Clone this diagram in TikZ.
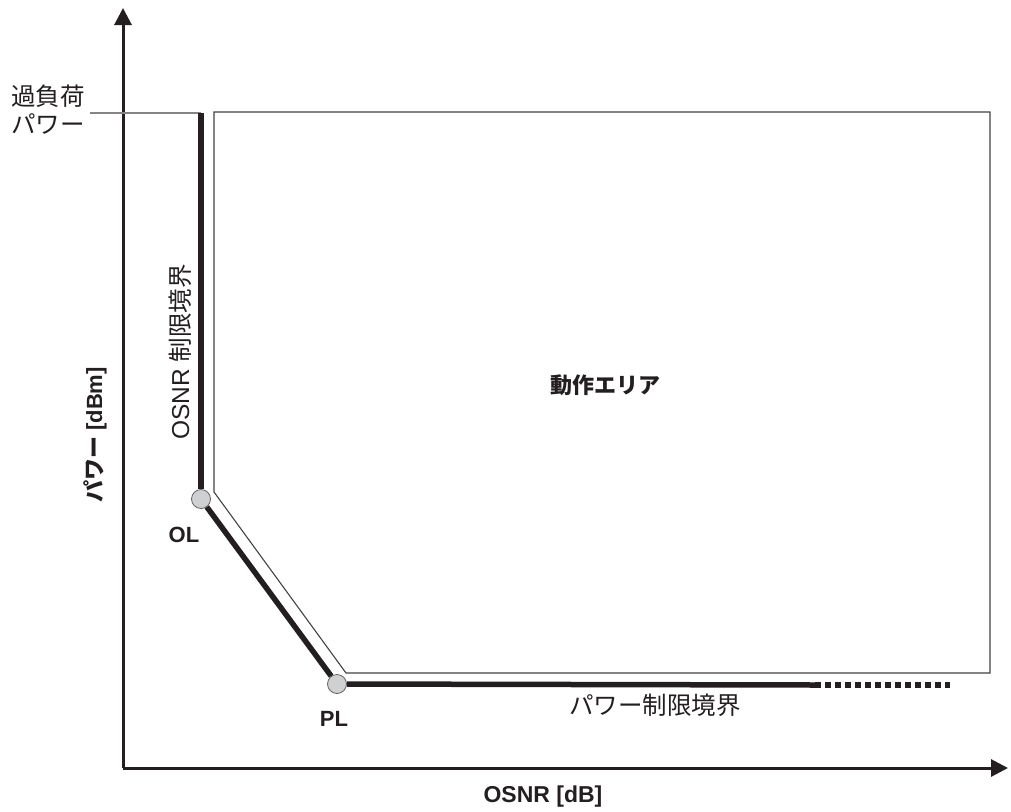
\documentclass[tikz,border=0pt]{standalone}
\usepackage{fontspec}
\setmainfont{Liberation Sans}
\newfontfamily\jp{Noto Sans CJK JP}
\usetikzlibrary{arrows.meta}
\definecolor{ink}{HTML}{231F20}
\definecolor{dotgray}{HTML}{CFD0D2}
\begin{document}
\begin{tikzpicture}[x = 1pt, y = -1pt,
        axis/.style = {ink, line width = 3pt, -{Triangle[length = 17pt, width = 17pt]}},
        bound/.style = {ink, line width = 5.5pt},
        area/.style = {ink!85, line width = 1.1pt},
        dot/.style = {circle, draw = ink!70, line width = 0.8pt, fill = dotgray,
            minimum size = 19pt, inner sep = 0pt},
        lbl/.style = {font = \fontsize{24.5}{28}\selectfont, text = ink, inner sep = 0pt},
        blbl/.style = {font = \fontsize{22}{27}\selectfont\bfseries, text = ink, inner sep = 0pt}]
        \useasboundingbox (0, 0) rectangle (1011, 811);
        % axes
        \coordinate (o) at (123, 768);
        \coordinate (ytop) at (123, 8);
        \coordinate (xend) at (1008, 768);
        \draw [axis] (o) -- (ytop);
        \draw [axis] (o) -- (xend);
        % overload power level
        \coordinate (ovl) at (90, 113);
        \coordinate (btop) at (201, 113);
        \draw [ink!55, line width = 1.6pt] (ovl) -- (btop);
        % operating area
        \coordinate (a1) at (214, 112);
        \coordinate (a2) at (990, 112);
        \coordinate (a3) at (990, 673);
        \coordinate (a4) at (346, 673);
        \coordinate (a5) at (214, 492);
        \draw [area] (a1) -- (a2) -- (a3) -- (a4) -- (a5) -- cycle;
        % boundaries
        \node [dot] (ol) at (201, 499) {};
        \node [dot] (pl) at (337, 684) {};
        \coordinate (bend) at (815, 685);
        \coordinate (dend) at (950, 685);
        \draw [bound] (btop) -- (ol);
        \draw [bound] (ol) -- (pl);
        \draw [bound] (pl) -- (bend);
        \draw [ink, line width = 6pt, dash pattern = on 6pt off 4pt] (bend) -- (dend);
        % labels
        \node [lbl, align = left, anchor = west] (ovlbl) at (11, 110) {\jp 過負荷\\\jp パワー};
        \node [lbl, rotate = 90] (osnrb) at (180, 352) {OSNR {\jp 制限境界}};
        \node [blbl, rotate = 90] (ylbl) at (95, 435) {{\jp パワー} [dBm]};
        \node [blbl] (opa) at (605, 385) {\jp 動作エリア};
        \node [blbl] (oll) at (184, 535) {OL};
        \node [blbl] (pll) at (334, 719) {PL};
        \node [lbl] (plb) at (655, 705) {\jp パワー制限境界};
        \node [blbl, font = \fontsize{23}{27}\selectfont\bfseries] (xlbl) at (543, 797) {OSNR [dB]};
    \end{tikzpicture}
\end{document}
